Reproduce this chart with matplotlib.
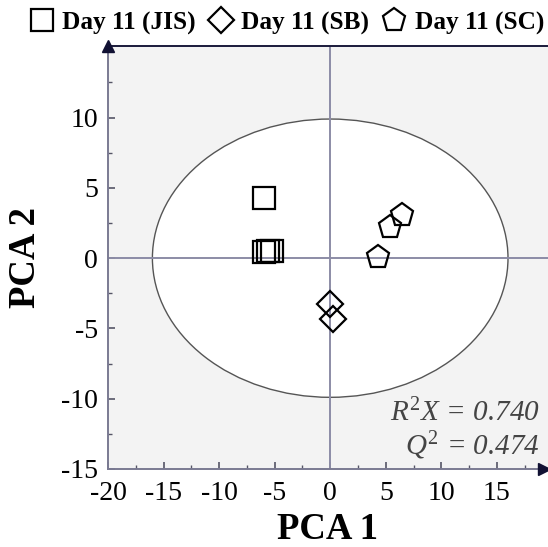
import numpy as np
import matplotlib
matplotlib.use("Agg")
import matplotlib.pyplot as plt
from matplotlib.patches import Ellipse
from matplotlib.lines import Line2D

plt.rcParams['font.family'] = ['Liberation Serif', 'DejaVu Serif']
plt.rcParams['mathtext.fontset'] = 'custom'
plt.rcParams['mathtext.rm'] = 'Liberation Serif'
plt.rcParams['mathtext.it'] = 'Liberation Serif:italic'

# scores
jis_x = [-5.95, -5.95, -5.6, -5.2]
jis_y = [4.3, 0.45, 0.5, 0.5]
sb_x = [-0.06, 0.24]
sb_y = [-3.25, -4.3]
sc_x = [6.45, 5.4, 4.3]
sc_y = [3.1, 2.2, 0.05]
labels = ["Day 11 (JIS)", "Day 11 (SB)", "Day 11 (SC)"]
r2x = 0.740
q2 = 0.474

fig = plt.figure(figsize=(5.48, 5.47), dpi=100)
ax = fig.add_axes([0.197, 0.1426, 0.803, 0.7734])
ax.set_facecolor("#f3f3f3")
ax.set_xlim(-20, 19.6)
ax.set_ylim(-15, 15.1)

ell = Ellipse((0, 0), 32, 19.8, facecolor="white", edgecolor="#555555", lw=1.0, zorder=1)
ax.add_patch(ell)
ax.axhline(0, color="#8c8ca6", lw=1.4, zorder=2)
ax.axvline(0, color="#8c8ca6", lw=1.4, zorder=2)

mk = dict(linestyle="none", markerfacecolor="none", markeredgecolor="black",
          markeredgewidth=1.6, zorder=3)
ax.plot(jis_x, jis_y, marker="s", markersize=15.5, **mk)
ax.plot(sb_x, sb_y, marker="D", markersize=13, **mk)
ax.plot(sc_x, sc_y, marker="p", markersize=17, **mk)

ax.spines["right"].set_visible(False)
ax.spines["top"].set_color("#1a1a3a")
ax.spines["top"].set_linewidth(1.4)
for s in ["left", "bottom"]:
    ax.spines[s].set_color("#7a7a92")
    ax.spines[s].set_linewidth(1.4)

# arrow heads
ax.plot([-20], [15.1], marker="^", color="#111133", markersize=8, clip_on=False, zorder=5)
ax.plot([19.25], [-15], marker=">", color="#111133", markersize=8, clip_on=False, zorder=5)

ax.set_xticks(np.arange(-20, 16, 5))
ax.set_yticks(np.arange(-15, 11, 5))
ax.set_xticks(np.arange(-17.5, 19, 2.5), minor=True)
ax.set_yticks(np.arange(-12.5, 14, 2.5), minor=True)
ax.tick_params(which="both", direction="in", color="#555566", labelsize=20)
ax.tick_params(axis="x", pad=9)
ax.tick_params(axis="y", pad=7)
ax.tick_params(which="major", length=5, width=1.2)
ax.tick_params(which="minor", length=3, width=1.0)
ax.set_xticklabels([str(v) for v in range(-20, 16, 5)])
ax.set_yticklabels([str(v) for v in range(-15, 11, 5)])

ax.set_xlabel("PCA 1", fontsize=26.5, fontweight="bold", labelpad=4)
ax.set_ylabel("PCA 2", fontsize=26.5, fontweight="bold")
ax.yaxis.set_label_coords(-0.148, 0.5)

ax.text(0.982, 0.132, f"$R^2X$ = {r2x:.3f}", transform=ax.transAxes, ha="right", va="center",
        fontsize=21, style="italic", color="#444444")
ax.text(0.982, 0.055, f"$Q^2$ = {q2:.3f}", transform=ax.transAxes, ha="right", va="center",
        fontsize=21, style="italic", color="#444444")

handles = [
    Line2D([], [], marker="s", markersize=15.5, **mk),
    Line2D([], [], marker="D", markersize=13, **mk),
    Line2D([], [], marker="p", markersize=17, **mk),
]
fig.legend(handles, labels, loc="center", bbox_to_anchor=(0.523, 0.958), ncol=3,
           frameon=False, prop={"size": 18.2, "weight": "bold"},
           handlelength=1.0, handletextpad=0.3, columnspacing=0.5, borderpad=0)

fig.savefig("out.png", dpi=100)
